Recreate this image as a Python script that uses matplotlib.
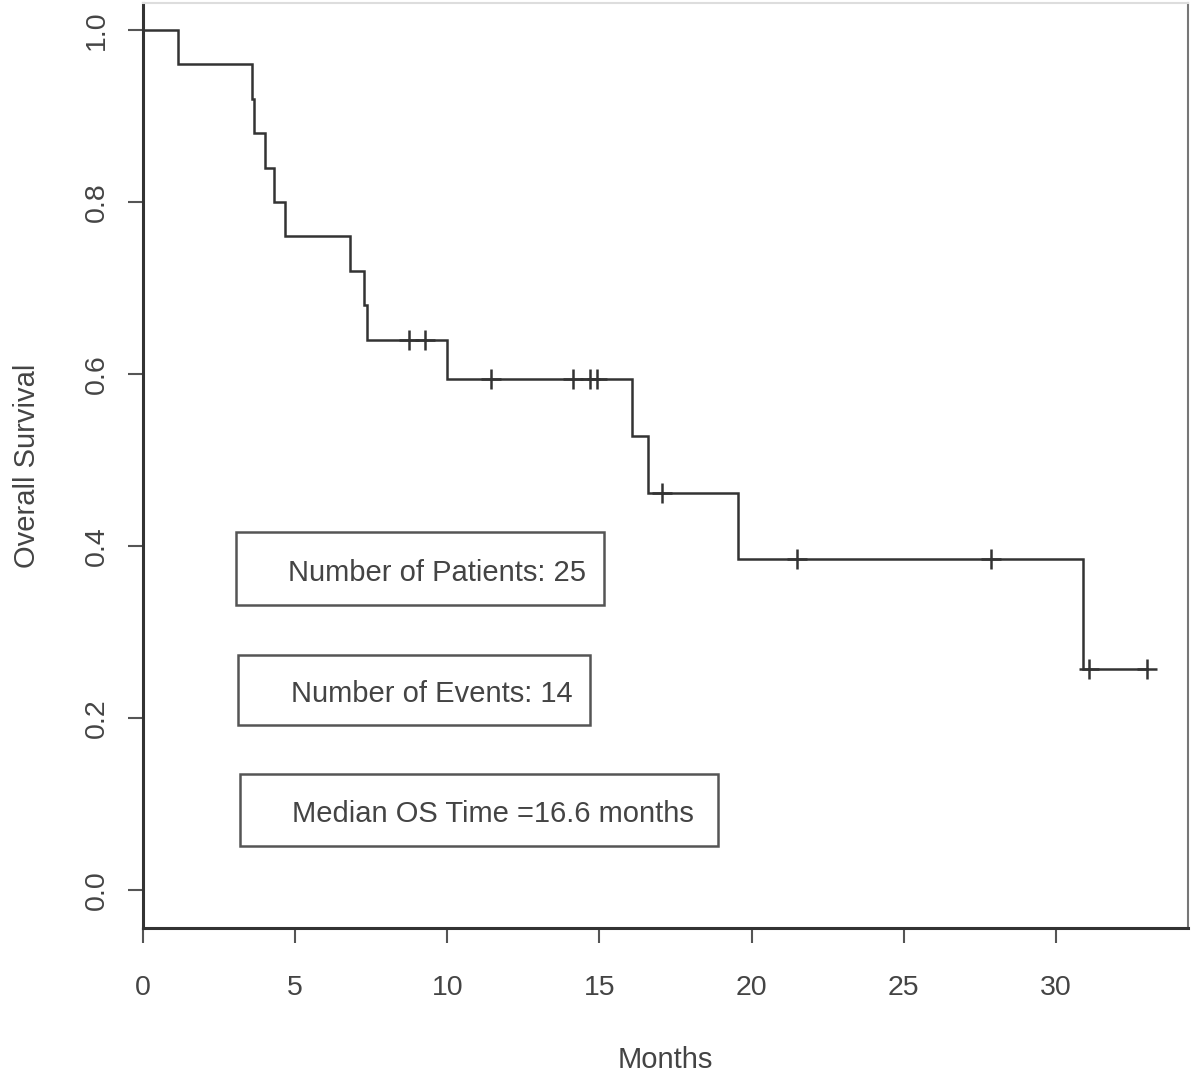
import numpy as np
import matplotlib
matplotlib.use('Agg')
from matplotlib import pyplot as plt
from matplotlib.patches import Rectangle

# event (death) and censoring times in months
event_times = [1.15, 3.57, 3.65, 4.01, 4.29, 4.67, 6.81, 7.25, 7.36,
               9.98, 16.07, 16.6, 19.54, 30.9]
censor_times = [8.73, 9.28, 11.43, 14.13, 14.68, 14.92, 17.04,
                21.5, 27.86, 31.1, 33.0]

box_texts = ['Number of Patients: 25',
             'Number of Events: 14',
             'Median OS Time =16.6 months']
# legend boxes: (x0, x1, y0, y1) in data units
box_extents = [(3.06, 15.16, 0.331, 0.416),
               (3.13, 14.70, 0.192, 0.273),
               (3.19, 18.88, 0.051, 0.135)]

x_ticks = [0, 5, 10, 15, 20, 25, 30]
y_ticks = [0.0, 0.2, 0.4, 0.6, 0.8, 1.0]

LINE = '#333333'
TEXT = '#444444'


def kaplan_meier(events, censored):
    """Return step coordinates of the KM estimate and censor mark heights."""
    times = sorted([(t, 1) for t in events] + [(t, 0) for t in censored])
    at_risk = len(times)
    surv = 1.0
    xs, ys = [0.0], [1.0]
    marks = []
    for t, died in times:
        if died:
            xs.append(t)
            ys.append(surv)
            surv *= (at_risk - 1) / at_risk
            xs.append(t)
            ys.append(surv)
        else:
            marks.append((t, surv))
        at_risk -= 1
    xs.append(max(max(events), max(censored)))
    ys.append(surv)
    return xs, ys, marks


plt.rcParams['font.family'] = ['Liberation Sans', 'DejaVu Sans']

fig = plt.figure(figsize=(12, 10.83), dpi=100)
ax = fig.add_axes([0.1192, 0.1431, 0.99 - 0.1192, 0.9972 - 0.1431])

xs, ys, marks = kaplan_meier(event_times, censor_times)
ax.plot(xs, ys, color=LINE, lw=1.8, solid_joinstyle='miter')
mx, my = zip(*marks)
ax.plot(mx, my, ls='none', marker='+', ms=15, mew=1.8, color=LINE)

for (x0, x1, y0, y1), txt in zip(box_extents, box_texts):
    ax.add_patch(Rectangle((x0, y0), x1 - x0, y1 - y0, fill=False,
                           ec='#555555', lw=1.8))
    ax.text(x0 + 1.72, (y0 + y1) / 2 - 0.005, txt, fontsize=21, color=TEXT,
            ha='left', va='center')

ax.set_xlim(0, 34.34)
ax.set_ylim(-0.0442, 1.0314)
ax.set_xticks(x_ticks)
ax.set_xticklabels([str(v) for v in x_ticks])
ax.set_yticks(y_ticks)
ax.set_yticklabels([f'{v:.1f}' for v in y_ticks], rotation=90, va='center')
ax.tick_params(axis='both', length=11, width=1.5, color='#555555',
               labelsize=20.5, labelcolor=TEXT)
ax.tick_params(axis='x', pad=23)
ax.tick_params(axis='y', pad=13)

for side in ('left', 'bottom'):
    ax.spines[side].set_linewidth(2.2)
    ax.spines[side].set_color('#333333')
for side in ('right', 'top'):
    ax.spines[side].set_linewidth(1.5)
    ax.spines[side].set_color('#777777')
ax.spines['top'].set_color('#dddddd')

ax.set_xlabel('Months', fontsize=21, color=TEXT, labelpad=32)
ax.set_ylabel('Overall Survival', fontsize=21, color=TEXT, labelpad=31)

fig.savefig('out.png', dpi=100)
